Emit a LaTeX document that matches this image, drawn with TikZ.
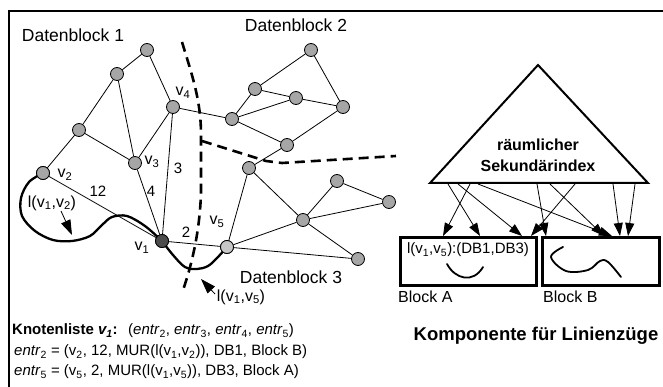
\documentclass[tikz,border=0pt]{standalone}
\usepackage{fontspec}
\setmainfont{Liberation Sans}
\usetikzlibrary{arrows.meta}
\newcommand\lo[1]{\textsubscript{#1}}
\tikzset{
  vert/.style={circle,draw=black,fill=black!35,line width=0.8pt,minimum size=13pt,inner sep=0pt},
  vone/.style={vert,fill=black!70},
  vfive/.style={vert,fill=black!22},
  edge/.style={line width=0.8pt},
  sepline/.style={line width=2.6pt,dash pattern=on 10pt off 6pt},
  pathline/.style={line width=2.3pt,line join=round,line cap=round},
  lbl/.style={inner sep=0pt,font=\fontsize{15}{17}\selectfont},
  vlbl/.style={inner sep=0pt,font=\fontsize{16}{18}\selectfont},
  dbl/.style={inner sep=0pt,font=\fontsize{17.5}{20}\selectfont},
  idx/.style={line width=0.8pt,-{Triangle[length=13pt,width=9pt]}},
  big/.style={line width=0.8pt,-{Triangle[length=15pt,width=10pt]}},
  blockbox/.style={draw,line width=3pt,inner sep=0pt},
}
\begin{document}
\begin{tikzpicture}[x=1pt,y=-1pt]
\useasboundingbox (0,0) rectangle (663,387);
% frame
\draw[line width=2.6pt] (9,387) -- (9,11) -- (663,11);

% separation lines
\draw[sepline] (182,42) .. controls (192,75) and (201,100) .. (201,135) -- (201,192) .. controls (200,228) and (193,262) .. (182,293);
\draw[sepline] (202,141) -- (266,161) -- (282,163) -- (396,156);

% vertices
\node[vert] (a) at (147,50) {};
\node[vert] (b) at (117,74) {};
\node[vert] (v4) at (173,107) {};
\node[vert] (c) at (79,130) {};
\node[vert] (v3) at (135,163) {};
\node[vert] (v2) at (43,173) {};
\node[vone] (v1) at (162,241) {};
\node[vfive] (v5) at (227,247) {};
\node[vert] (d) at (232,119) {};
\node[vert] (e) at (311,50) {};
\node[vert] (f) at (255,89) {};
\node[vert] (g) at (296,98) {};
\node[vert] (h) at (343,107) {};
\node[vert] (i) at (287,145) {};
\node[vert] (j) at (249,168) {};
\node[vert] (k) at (337,181) {};
\node[vert] (l) at (389,202) {};
\node[vert] (m) at (303,220) {};
\node[vert] (n) at (358,259) {};

% edges
\foreach \p/\q in {a/b,a/v4,b/c,b/v3,c/v2,c/v3,v3/v4,v4/d,v2/v1,v3/v1,v4/v1,v1/v5,
  e/f,e/h,f/d,f/g,g/d,g/h,h/i,d/i,i/j,
  j/v5,j/m,m/v5,m/k,m/l,k/l,m/n,v5/n}
  \draw[edge] (\p) -- (\q);

% thick paths
\draw[pathline] plot[smooth,tension=0.55] coordinates {(v2.center) (29,182) (21,198) (22,216) (35,231) (53,240) (72,241) (90,236) (102,225) (112,217) (127,216) (145,226) (v1.center)};
\draw[pathline] plot[smooth,tension=0.6] coordinates {(v1.center) (173,255) (185,267) (197,269) (208,266) (217,258) (v5.center)};
\node[vone] at (v1) {};
\node[vfive] at (v5) {};
\node[vert] at (v2) {};

% labels
\node[dbl] (db1) at (73,35) {Datenblock 1};
\node[dbl] (db2) at (296,25) {Datenblock 2};
\node[dbl] (db3) at (291,277) {Datenblock 3};
\node[vlbl] (lv2) at (65,175) {v\lo{2}};
\node[vlbl] (lv3) at (152,162) {v\lo{3}};
\node[vlbl] (lv4) at (183,93) {v\lo{4}};
\node[vlbl] (lv1) at (142,248) {v\lo{1}};
\node[vlbl] (lv5) at (217,222) {v\lo{5}};
\node[lbl] (w12) at (98,191) {12};
\node[lbl] (w4) at (151,191) {4};
\node[lbl] (w3) at (178,168) {3};
\node[lbl] (w2) at (186,232) {2};
\node[vlbl] (l12) at (52,203) {l(v\lo{1},v\lo{2})};
\node[vlbl] (l15) at (241,297) {l(v\lo{1},v\lo{5})};
\coordinate (t12) at (72,235);
\coordinate (t15) at (201,279);
\draw[big] (61,211) -- (t12);
\draw[big] (215,294) -- (t15);

% bottom text
\node[lbl,anchor=west] (kl) at (12,331) {\textbf{Knotenliste \textit{v\lo{1}}:}\hspace{0.7em}(\textit{entr}\lo{2}, \textit{entr}\lo{3}, \textit{entr}\lo{4}, \textit{entr}\lo{5})};
\node[lbl,anchor=west] (e2) at (14,352) {\textit{entr}\lo{2} = (v\lo{2}, 12, MUR(l(v\lo{1},v\lo{2})), DB1, Block B)};
\node[lbl,anchor=west] (e5) at (14,372) {\textit{entr}\lo{5} = (v\lo{5}, 2, MUR(l(v\lo{1},v\lo{5})), DB3, Block A)};

% index triangle
\draw[line width=2pt,line join=miter] (430,183) -- (538,65) -- (648,183) -- cycle;
\node[align=center,font=\bfseries\fontsize{16}{21}\selectfont] (ri) at (538,155) {räumlicher\\Sekundärindex};

% blocks
\node[blockbox,minimum width=136pt,minimum height=48pt] (ba) at (468,261) {};
\node[blockbox,minimum width=117pt,minimum height=48pt] (bb) at (601,261) {};
\node[lbl] (ltxt) at (468,250) {l(v\lo{1},v\lo{5}):(DB1,DB3)};
\draw[line width=1.8pt,line cap=round] (447,264) .. controls (455,279) and (473,284) .. (483,267);
\draw[line width=1.8pt,line cap=round] plot[smooth,tension=0.6] coordinates {(563,247) (551,257) (566,271) (588,270) (600,261) (608,262) (621,277)};
\node[vlbl,anchor=west] (bal) at (398,297) {Block A};
\node[vlbl,anchor=west] (bbl) at (543,297) {Block B};
\node[font=\bfseries\fontsize{18.5}{21}\selectfont] (komp) at (536,336) {Komponente für Linienzüge};

% index arrows
\draw[idx] (448,184) -- (480,236);
\draw[idx] (470,184) -- (443,236);
\draw[idx] (458,184) -- (522,236);
\draw[idx] (478,184) -- (612,236);
\draw[idx] (537,184) -- (546,236);
\draw[idx] (575,184) -- (531,236);
\draw[idx] (550,184) -- (604,236);
\draw[idx] (613,184) -- (620,236);
\draw[idx] (635,184) -- (628,236);
\end{tikzpicture}
\end{document}
